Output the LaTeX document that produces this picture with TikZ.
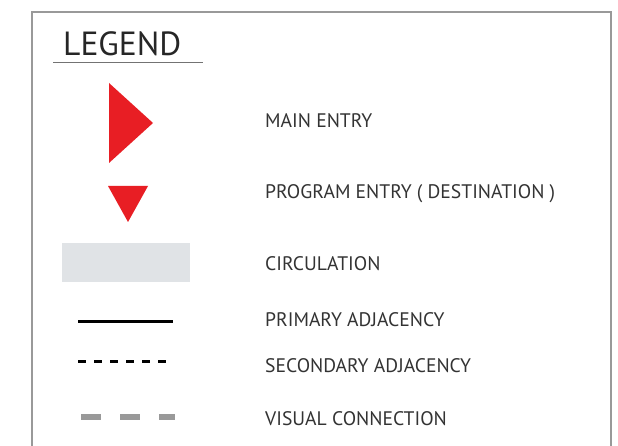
\documentclass[tikz,border=0pt]{standalone}
\usepackage{fontspec}
\setmainfont{PT Sans}
\definecolor{legred}{RGB}{232,30,36}
\definecolor{circgray}{RGB}{224,227,230}
\begin{document}
\begin{tikzpicture}[x=1pt,y=-1pt,
  lbl/.style={anchor=base west,inner sep=0pt,text=black!80,font=\fontsize{19.6}{19.6}\selectfont},
  redtri/.style={fill=legred,draw=none}]
\useasboundingbox (0,0) rectangle (618,446);
\fill[white] (0,0) rectangle (618,446);
% frame
\draw[black!40,line width=1.5pt] (32,447) -- (32,12) -- (611,12) -- (611,447);
% title
\node[anchor=base west,inner sep=0pt,text=black!85,font=\fontsize{33.5}{33.5}\selectfont] (title) at (63,56) {LEGEND};
\draw[black!55,line width=1pt] (53,63) -- (203,63);
% symbols
\fill[redtri] (109,83) -- (153,123) -- (109,163) -- cycle;
\fill[redtri] (108,186) -- (148,186) -- (128,222) -- cycle;
\fill[circgray] (62,243) rectangle (190,282);
\draw[black,line width=3pt] (78,321) -- (173,321);
\draw[black,line width=3pt,dash pattern=on 8pt off 8pt] (78,361) -- (167,361);
\draw[black!40,line width=6pt,dash pattern=on 20pt off 19pt] (81,417) -- (175,417);
% labels
\node[lbl] (l1) at (265,128) {MAIN ENTRY};
\node[lbl] (l2) at (265,199) {PROGRAM ENTRY ( DESTINATION )};
\node[lbl] (l3) at (265,270) {CIRCULATION};
\node[lbl] (l4) at (265,326) {PRIMARY ADJACENCY};
\node[lbl] (l5) at (265,372) {SECONDARY ADJACENCY};
\node[lbl] (l6) at (265,425) {VISUAL CONNECTION};
\end{tikzpicture}
\end{document}
